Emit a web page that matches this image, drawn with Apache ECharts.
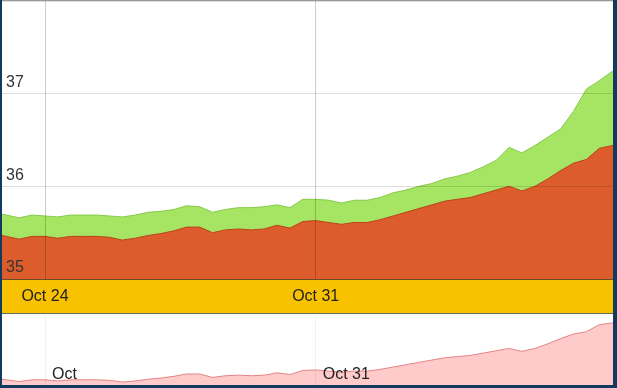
<!DOCTYPE html>
<html><head><meta charset="utf-8">
<script src="https://cdn.jsdelivr.net/npm/echarts@6/dist/echarts.min.js"></script>
<style>html,body{margin:0;padding:0;background:#fff}#c{width:617px;height:388px}</style>
</head><body><div id="c"></div>
<script>
const times = [
 '2014-10-22 16:00','2014-10-23 00:00','2014-10-23 08:00','2014-10-23 16:00',
 '2014-10-24 00:00','2014-10-24 08:00','2014-10-24 16:00','2014-10-25 00:00',
 '2014-10-25 08:00','2014-10-25 16:00','2014-10-26 00:00','2014-10-26 08:00',
 '2014-10-26 16:00','2014-10-27 00:00','2014-10-27 08:00','2014-10-27 16:00',
 '2014-10-28 00:00','2014-10-28 08:00','2014-10-28 16:00','2014-10-29 00:00',
 '2014-10-29 08:00','2014-10-29 16:00','2014-10-30 00:00','2014-10-30 08:00',
 '2014-10-30 16:00','2014-10-31 00:00','2014-10-31 08:00','2014-10-31 16:00',
 '2014-11-01 00:00','2014-11-01 08:00','2014-11-01 16:00','2014-11-02 00:00',
 '2014-11-02 08:00','2014-11-02 16:00','2014-11-03 00:00','2014-11-03 08:00',
 '2014-11-03 16:00','2014-11-04 00:00','2014-11-04 08:00','2014-11-04 16:00',
 '2014-11-05 00:00','2014-11-05 08:00','2014-11-05 16:00','2014-11-06 00:00',
 '2014-11-06 08:00','2014-11-06 16:00','2014-11-07 00:00','2014-11-07 08:00',
 '2014-11-07 16:00','2014-11-08 00:00'
];
const redValues = [
 35.49,35.46,35.43,35.46,35.46,35.44,35.46,35.46,35.46,35.45,
 35.42,35.44,35.47,35.49,35.52,35.56,35.56,35.50,35.53,35.54,
 35.53,35.54,35.58,35.55,35.62,35.63,35.61,35.59,35.61,35.61,
 35.64,35.68,35.72,35.76,35.80,35.84,35.86,35.88,35.92,35.96,
 36.00,35.95,36.00,36.08,36.17,36.25,36.29,36.41,36.44,36.44
];
const greenValues = [
 35.72,35.69,35.66,35.69,35.68,35.67,35.69,35.69,35.69,35.68,
 35.67,35.69,35.72,35.73,35.75,35.79,35.78,35.72,35.75,35.77,
 35.77,35.78,35.80,35.77,35.86,35.86,35.85,35.82,35.85,35.85,
 35.88,35.93,35.96,36.00,36.03,36.08,36.11,36.15,36.21,36.28,
 36.42,36.36,36.44,36.53,36.62,36.81,37.05,37.14,37.24,37.34
];
const xTickDates = ['2014-10-24 00:00','2014-10-31 00:00'];
const xTickLabels = ['Oct 24','Oct 31'];
const navTickLabels = ['Oct','Oct 31'];
const yTickValues = [35,36,37];
const yTickLabels = ['35','36','37'];

function ts(s){ return Date.parse(s.replace(' ','T')+':00Z'); }
const xMin = ts('2014-10-22 21:20');
const xMax = ts('2014-11-07 16:30');
const xTicks = xTickDates.map(ts);
const redData = times.map((t,i)=>[ts(t), redValues[i]]);
const greenData = times.map((t,i)=>[ts(t), greenValues[i]]);
const FONT = '"Liberation Sans", Arial, sans-serif';

const chart = echarts.init(document.getElementById('c'), null, {renderer:'canvas'});
chart.setOption({
  animation: false,
  backgroundColor: '#fff',
  textStyle: {fontFamily: FONT},
  grid: [
    {left: 2, top: 1, width: 611, height: 278, outerBoundsMode: 'none', containLabel: false},
    {left: 2, top: 316, width: 611, height: 69, outerBoundsMode: 'none', containLabel: false}
  ],
  xAxis: [
    {type: 'value', gridIndex: 0, min: xMin, max: xMax, z: 3,
     axisLine: {show: false},
     axisTick: {show: false, customValues: xTicks},
     splitLine: {show: true, lineStyle: {color: 'rgba(0,0,0,0.2)', width: 1}},
     axisLabel: {customValues: xTicks, margin: 10, color: '#222', fontSize: 16, fontFamily: FONT,
       formatter: v => { const i = xTicks.indexOf(v); return i >= 0 ? xTickLabels[i] : ''; }}
    },
    {type: 'value', gridIndex: 1, min: xMin, max: xMax, z: 3,
     axisLine: {show: false},
     axisTick: {show: false, customValues: xTicks},
     splitLine: {show: true, lineStyle: {color: 'rgba(0,0,0,0.06)', width: 1}},
     axisLabel: {customValues: xTicks, inside: true, margin: 2, align: 'left', padding: [0,0,0,7],
       color: '#222', fontSize: 16, fontFamily: FONT,
       formatter: v => { const i = xTicks.indexOf(v); return i >= 0 ? navTickLabels[i] : ''; }}
    }
  ],
  yAxis: [
    {type: 'value', gridIndex: 0, min: 35, max: 38, interval: 1, z: 3,
     axisLine: {show: false}, axisTick: {show: false},
     splitLine: {show: true, lineStyle: {color: 'rgba(0,0,0,0.13)', width: 1}},
     axisLabel: {customValues: yTickValues, inside: true, margin: 4, verticalAlign: 'bottom',
       padding: [0,0,3,0], color: '#333', fontSize: 16, fontFamily: FONT,
       formatter: v => { const i = yTickValues.indexOf(v); return i >= 0 ? yTickLabels[i] : ''; }}
    },
    {type: 'value', gridIndex: 1, min: 35.37, max: 36.56, show: false,
     splitLine: {show: false}}
  ],
  series: [
    {type: 'line', xAxisIndex: 0, yAxisIndex: 0, data: greenData, symbol: 'none', z: 1,
     lineStyle: {color: '#86c94a', width: 1},
     areaStyle: {color: '#a6e564', opacity: 1, origin: 'start'}},
    {type: 'line', xAxisIndex: 0, yAxisIndex: 0, data: redData, symbol: 'none', z: 1,
     lineStyle: {color: '#b9441a', width: 1},
     areaStyle: {color: '#dc5d2b', opacity: 1, origin: 'start'}},
    {type: 'line', xAxisIndex: 1, yAxisIndex: 1, data: redData, symbol: 'none', z: 1,
     lineStyle: {color: '#e58486', width: 1},
     areaStyle: {color: '#ffcaca', opacity: 1, origin: 'start'}}
  ],
  graphic: [
    {type: 'rect', z: 1, silent: true, shape: {x: 2, y: 280, width: 611, height: 33},
     style: {fill: '#f9c200'}},
    {type: 'rect', z: 2, silent: true, shape: {x: 2, y: 279, width: 611, height: 1},
     style: {fill: '#7d5a2c'}},
    {type: 'rect', z: 2, silent: true, shape: {x: 2, y: 313, width: 611, height: 1},
     style: {fill: '#5f6b5c'}},
    {type: 'rect', z: 10, silent: true, shape: {x: 0, y: 0, width: 617, height: 1},
     style: {fill: '#9a9a9a'}},
    {type: 'rect', z: 10, silent: true, shape: {x: 0, y: 0, width: 2, height: 388},
     style: {fill: '#123a5f'}},
    {type: 'rect', z: 10, silent: true, shape: {x: 613, y: 0, width: 4, height: 388},
     style: {fill: '#123a5f'}},
    {type: 'rect', z: 10, silent: true, shape: {x: 0, y: 385, width: 617, height: 3},
     style: {fill: '#123a5f'}}
  ]
});
</script></body></html>
